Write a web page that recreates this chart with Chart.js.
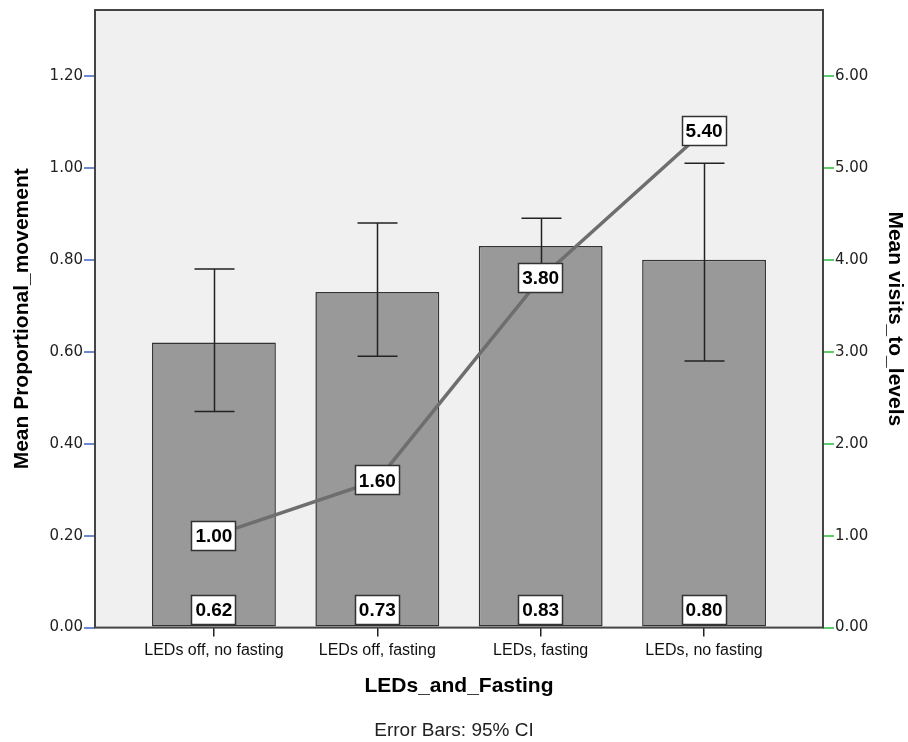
<!DOCTYPE html>
<html>
<head>
<meta charset="utf-8">
<script src="https://cdn.jsdelivr.net/npm/chart.js@4/dist/chart.umd.min.js"></script>
<style>
  html, body { margin: 0; padding: 0; background: #ffffff; }
  #wrap { width: 908px; height: 742px; }
</style>
</head>
<body>
<div id="wrap"><canvas id="c" width="908" height="742"></canvas></div>
<script>
// Group means of proportional movement (bars, left axis) with 95% CI,
// and mean visits to levels (line, right axis).
const categories = ["LEDs off, no fasting", "LEDs off, fasting", "LEDs, fasting", "LEDs, no fasting"];
const meanMovement = [0.62, 0.73, 0.83, 0.80];
const ciLower = [0.47, 0.59, 0.77, 0.58];
const ciUpper = [0.78, 0.88, 0.89, 1.01];
const meanVisits = [1.00, 1.60, 3.80, 5.40];
const leftTicks = [0, 0.2, 0.4, 0.6, 0.8, 1.0, 1.2];
const rightTicks = [0, 1, 2, 3, 4, 5, 6];

const TITLE_FONT = { family: "'Liberation Sans', Arial, sans-serif", size: 21, weight: 'bold' };
const TICK_FONT = { family: "'DejaVu Sans', sans-serif", size: 15 };
const LABEL_FONT = "bold 19px 'Liberation Sans', Arial, sans-serif";

function drawValueBox(ctx, text, cx, cy) {
  ctx.save();
  ctx.font = LABEL_FONT;
  const w = Math.round(ctx.measureText(text).width + 8);
  const h = 30;
  const x = Math.round(cx - w / 2), y = Math.round(cy - h / 2);
  ctx.fillStyle = '#ffffff';
  ctx.fillRect(x, y, w, h);
  ctx.strokeStyle = '#333333';
  ctx.lineWidth = 1.5;
  ctx.strokeRect(x + 0.5, y + 0.5, w - 1, h - 1);
  ctx.fillStyle = '#000000';
  ctx.textAlign = 'center';
  ctx.textBaseline = 'middle';
  ctx.fillText(text, cx, cy + 1);
  ctx.restore();
}

const decorations = {
  id: 'decorations',
  beforeDraw(chart) {
    const { ctx, chartArea: a } = chart;
    ctx.save();
    ctx.fillStyle = '#ffffff';
    ctx.fillRect(0, 0, chart.width, chart.height);
    ctx.fillStyle = '#f0f0f0';
    ctx.fillRect(a.left, a.top, a.right - a.left, a.bottom - a.top);
    ctx.restore();
  },
  afterDatasetDraw(chart, args) {
    if (chart.data.datasets[args.index].type !== 'bar') return;
    const { ctx } = chart;
    const xs = chart.scales.x, ys = chart.scales.y;
    ctx.save();
    ctx.strokeStyle = '#222222';
    ctx.lineWidth = 1.5;
    categories.forEach((_, i) => {
      const px = Math.round(xs.getPixelForValue(i)) + 0.5;
      const lo = ys.getPixelForValue(ciLower[i]);
      const hi = ys.getPixelForValue(ciUpper[i]);
      ctx.beginPath();
      ctx.moveTo(px, lo); ctx.lineTo(px, hi);
      ctx.moveTo(px - 20, hi); ctx.lineTo(px + 20, hi);
      ctx.moveTo(px - 20, lo); ctx.lineTo(px + 20, lo);
      ctx.stroke();
    });
    ctx.restore();
  },
  afterDatasetsDraw(chart) {
    const { ctx, chartArea: a } = chart;
    const xs = chart.scales.x, ys = chart.scales.y, y2 = chart.scales.y2;
    // plot frame
    ctx.save();
    ctx.strokeStyle = '#444444';
    ctx.lineWidth = 2;
    ctx.strokeRect(a.left, a.top, a.right - a.left, a.bottom - a.top);
    ctx.restore();
    // bar value labels sit at the foot of each bar
    meanMovement.forEach((v, i) => {
      drawValueBox(ctx, v.toFixed(2), xs.getPixelForValue(i), ys.getPixelForValue(0) - 18);
    });
    // line value labels sit on each point
    meanVisits.forEach((v, i) => {
      drawValueBox(ctx, v.toFixed(2), xs.getPixelForValue(i), y2.getPixelForValue(v));
    });
  }
};

const sidePad = 0.728;

new Chart(document.getElementById('c'), {
  data: {
    datasets: [
      {
        type: 'line',
        label: 'Mean visits_to_levels',
        data: meanVisits.map((v, i) => ({ x: i, y: v })),
        yAxisID: 'y2',
        borderColor: '#6e6e6e',
        borderWidth: 3.5,
        pointRadius: 0,
        fill: false,
        tension: 0,
        order: 0
      },
      {
        type: 'bar',
        label: 'Mean Proportional_movement',
        data: meanMovement.map((v, i) => ({ x: i, y: v })),
        yAxisID: 'y',
        backgroundColor: '#999999',
        borderColor: '#333333',
        borderWidth: 1.5,
        borderSkipped: false,
        barPercentage: 0.758,
        categoryPercentage: 1,
        order: 1
      }
    ]
  },
  options: {
    responsive: false,
    animation: false,
    devicePixelRatio: 1,
    layout: { padding: { top: 6, left: 0, right: 0, bottom: 0 } },
    plugins: {
      legend: { display: false },
      tooltip: { enabled: false },
      subtitle: {
        display: true,
        position: 'bottom',
        text: 'Error Bars: 95% CI',
        color: '#222222',
        font: { family: "'Liberation Sans', Arial, sans-serif", size: 19, weight: 'normal' },
        padding: { top: 7, bottom: 0 }
      }
    },
    scales: {
      x: {
        type: 'linear',
        offset: false,
        min: -sidePad,
        max: categories.length - 1 + sidePad,
        afterBuildTicks: s => { s.ticks = categories.map((_, i) => ({ value: i })); },
        afterFit: s => { s.height = 84.6; },
        ticks: {
          autoSkip: false,
          maxRotation: 0,
          padding: 4,
          color: '#111111',
          font: { family: "'Liberation Sans', Arial, sans-serif", size: 16 },
          callback: v => categories[v]
        },
        grid: { offset: false, drawOnChartArea: false, drawTicks: true, tickLength: 9, color: '#222222', lineWidth: 1.5 },
        border: { display: false },
        title: { display: true, text: 'LEDs_and_Fasting', color: '#000000', font: TITLE_FONT, padding: { top: 0, bottom: 13 } }
      },
      y: {
        type: 'linear',
        position: 'left',
        min: 0,
        max: 1.343,
        afterBuildTicks: s => { s.ticks = leftTicks.map(v => ({ value: v })); },
        afterFit: s => { s.width = 95; },
        ticks: { color: '#222222', font: TICK_FONT, padding: 1, callback: v => Number(v).toFixed(2) },
        grid: { drawOnChartArea: false, drawTicks: true, tickLength: 11, color: '#7088d0', lineWidth: 2 },
        border: { display: false },
        title: { display: true, text: 'Mean Proportional_movement', color: '#000000', font: TITLE_FONT, padding: { top: 10, bottom: 0 } }
      },
      y2: {
        type: 'linear',
        position: 'right',
        min: 0,
        max: 6.715,
        afterBuildTicks: s => { s.ticks = rightTicks.map(v => ({ value: v })); },
        afterFit: s => { s.width = 85; },
        ticks: { color: '#222222', font: TICK_FONT, padding: 1, callback: v => Number(v).toFixed(2) },
        grid: { drawOnChartArea: false, drawTicks: true, tickLength: 11, color: '#5ccc6c', lineWidth: 2 },
        border: { display: false },
        title: { display: true, text: 'Mean visits_to_levels', color: '#000000', font: TITLE_FONT, padding: { top: 1, bottom: 0 } }
      }
    }
  },
  plugins: [decorations]
});
</script>
</body>
</html>
